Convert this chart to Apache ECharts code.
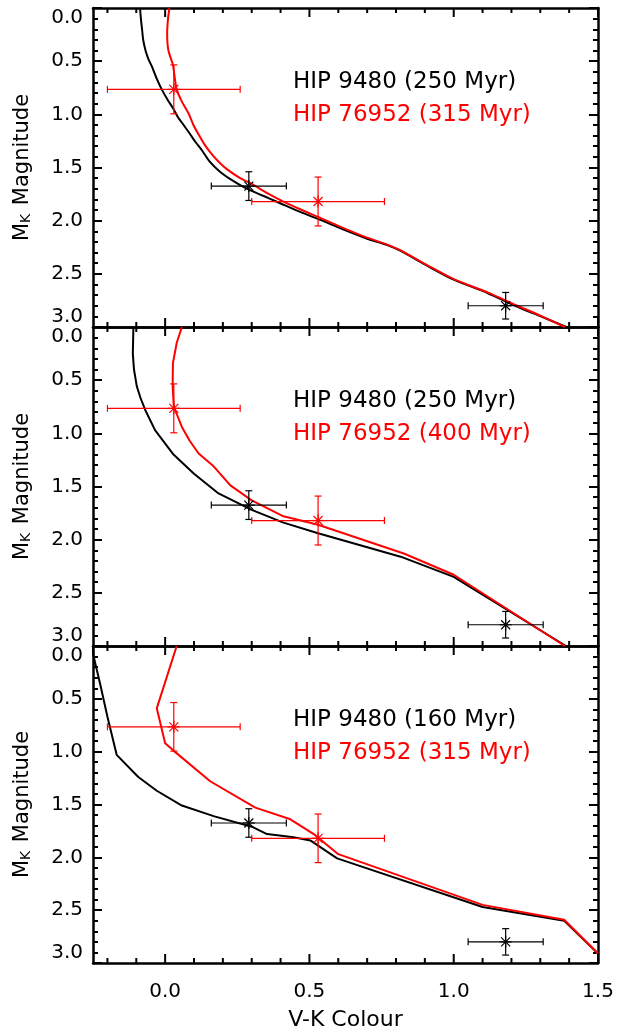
<!DOCTYPE html>
<html><head><meta charset="utf-8">
<script src="https://cdn.jsdelivr.net/npm/echarts@6/dist/echarts.min.js"></script>
<style>html,body{margin:0;padding:0;background:#fff}#c{width:625px;height:1032px}</style>
</head><body><div id="c"></div>
<script>
// ---- data ----
const xMajorTicks = [0, 0.5, 1.0, 1.5];
const xMinorTicks = [-0.2, -0.1, 0.1, 0.2, 0.3, 0.4, 0.6, 0.7, 0.8, 0.9, 1.1, 1.2, 1.3, 1.4];
const yMajorTicks = [0, 0.5, 1.0, 1.5, 2.0, 2.5, 3.0];

const blackLabels = ['HIP 9480 (250 Myr)', 'HIP 9480 (250 Myr)', 'HIP 9480 (160 Myr)'];
const redLabels = ['HIP 76952 (315 Myr)', 'HIP 76952 (400 Myr)', 'HIP 76952 (315 Myr)'];

// [V-K, M_K]
const panel1Black = [[-0.087,0.0],[-0.084,0.10],[-0.080,0.20],[-0.076,0.30],[-0.068,0.40],[-0.058,0.48],[-0.046,0.55],[-0.030,0.66],[-0.011,0.77],[0.008,0.86],[0.029,0.95],[0.045,1.03],[0.064,1.10],[0.085,1.18],[0.105,1.26],[0.128,1.34],[0.156,1.45],[0.19,1.54],[0.226,1.61],[0.26,1.665],[0.30,1.72],[0.36,1.79],[0.41,1.85],[0.47,1.92],[0.54,1.995],[0.61,2.075],[0.70,2.17],[0.77,2.23],[0.816,2.285],[0.909,2.425],[1.0,2.555],[1.117,2.68],[1.221,2.81],[1.302,2.90],[1.39,3.0]];
const panel1Red = [[0.015,0.0],[0.010,0.10],[0.007,0.24],[0.011,0.395],[0.027,0.536],[0.033,0.65],[0.040,0.765],[0.058,0.88],[0.081,0.99],[0.098,1.10],[0.118,1.20],[0.138,1.29],[0.160,1.37],[0.187,1.45],[0.216,1.52],[0.26,1.60],[0.30,1.655],[0.36,1.75],[0.41,1.82],[0.47,1.895],[0.53,1.965],[0.61,2.06],[0.70,2.16],[0.77,2.225],[0.816,2.28],[0.909,2.42],[1.0,2.55],[1.117,2.675],[1.221,2.80],[1.302,2.895],[1.385,3.0]];
const panel2Black = [[-0.110,0.0],[-0.112,0.25],[-0.108,0.40],[-0.098,0.56],[-0.085,0.67],[-0.069,0.78],[-0.035,0.97],[0.029,1.20],[0.10,1.38],[0.185,1.565],[0.30,1.72],[0.41,1.84],[0.53,1.94],[0.816,2.16],[1.0,2.35],[1.389,3.0]];
const panel2Red = [[0.058,0.0],[0.040,0.15],[0.027,0.34],[0.026,0.56],[0.030,0.75],[0.058,0.94],[0.085,1.07],[0.116,1.19],[0.168,1.31],[0.226,1.49],[0.30,1.63],[0.41,1.78],[0.53,1.86],[0.827,2.13],[1.0,2.33],[1.385,3.0]];
const panel3Black = [[-0.256,0.0],[-0.249,0.085],[-0.226,0.35],[-0.200,0.67],[-0.168,1.03],[-0.093,1.24],[-0.029,1.37],[0.058,1.51],[0.168,1.61],[0.30,1.71],[0.353,1.78],[0.445,1.81],[0.503,1.84],[0.596,2.01],[1.10,2.47],[1.383,2.60],[1.5,2.91]];
const panel3Red = [[0.040,0.0],[-0.029,0.59],[0.0,0.92],[0.029,0.99],[0.156,1.28],[0.3125,1.53],[0.434,1.64],[0.515,1.78],[0.60,1.97],[1.10,2.45],[1.383,2.59],[1.5,2.91]];

// [x, y, xErr, yErr]
const starsBlack = [[0.29,1.675,0.13,0.135],[1.18,2.80,0.13,0.125]];
const starsRed = [[0.03,0.765,0.23,0.23],[0.53,1.82,0.23,0.23]];

const curvesBlack = [panel1Black, panel2Black, panel3Black];
const curvesRed = [panel1Red, panel2Red, panel3Red];
const curveSmooth = [0.25, false, false];

// ---- layout ----
const FONT = 'DejaVu Sans';
const PANEL_TOP = [8, 327, 646];
const PANEL_H = 319;
const GRID_LEFT = 93, GRID_RIGHT = 27;
const Y_MIN = 0, Y_MAX = 3;

function errRender(color) {
  return function (params, api) {
    const x = api.value(0), y = api.value(1), ex = api.value(2), ey = api.value(3);
    const c = api.coord([x, y]);
    const l = api.coord([x - ex, y]), r = api.coord([x + ex, y]);
    const t = api.coord([x, y - ey]), b = api.coord([x, y + ey]);
    const cap = 3.5, s = 6, d = 4.5;
    const st = { stroke: color, lineWidth: 1.2 };
    const seg = (x1, y1, x2, y2) => ({ type: 'line', shape: { x1, y1, x2, y2 }, style: st });
    return { type: 'group', children: [
      seg(l[0], l[1], r[0], r[1]),
      seg(l[0], l[1] - cap, l[0], l[1] + cap),
      seg(r[0], r[1] - cap, r[0], r[1] + cap),
      seg(t[0], t[1], b[0], b[1]),
      seg(t[0] - cap, t[1], t[0] + cap, t[1]),
      seg(b[0] - cap, b[1], b[0] + cap, b[1]),
      seg(c[0] - d, c[1] - d, c[0] + d, c[1] + d),
      seg(c[0] - d, c[1] + d, c[0] + d, c[1] - d),
      seg(c[0] - s, c[1], c[0] + s, c[1]),
      seg(c[0], c[1] - s, c[0], c[1] + s)
    ]};
  };
}

// x-axis ticks (inward, top and bottom) placed through the axis scale
function tickRender(params, api) {
  const v = api.value(0), major = api.value(2) === 1;
  const len = major ? 9 : 5;
  const top = api.coord([v, Y_MIN]), bot = api.coord([v, Y_MAX]);
  const st = { stroke: '#000', lineWidth: 2 };
  return { type: 'group', children: [
    { type: 'line', shape: { x1: top[0], y1: top[1], x2: top[0], y2: top[1] + len }, style: st },
    { type: 'line', shape: { x1: bot[0], y1: bot[1], x2: bot[0], y2: bot[1] - len }, style: st }
  ]};
}
// [value, y anchor, major flag]
const xTickData = xMajorTicks.map(v => [v, 1.5, 1]).concat(xMinorTicks.map(v => [v, 1.5, 0]));

const fmt1 = v => v.toFixed(1);
const grids = [], xAxes = [], yAxes = [], series = [], graphics = [];

function xAx(g, pos, labelled) {
  const ax = {
    gridIndex: g, type: 'value', position: pos, min: -0.25, max: 1.5, splitNumber: 4,
    splitLine: { show: false },
    axisLine: { show: true, onZero: false, lineStyle: { color: '#000', width: 2.5 } },
    axisTick: { show: false },
    axisLabel: { show: false }
  };
  if (labelled) {
    ax.axisLabel = {
      show: true, showMinLabel: false, color: '#000', fontFamily: FONT, fontSize: 20, margin: 19,
      formatter: v => (xMajorTicks.some(t => Math.abs(t - v) < 1e-9) ? fmt1(v) : '')
    };
    ax.name = 'V-K Colour';
    ax.nameLocation = 'middle';
    ax.nameGap = 46;
    ax.nameTextStyle = { color: '#000', fontFamily: FONT, fontSize: 22 };
  }
  return ax;
}
function yAx(g, pos) {
  const ax = {
    gridIndex: g, type: 'value', position: pos, inverse: true, min: Y_MIN, max: Y_MAX, interval: 0.5,
    splitLine: { show: false },
    axisLine: { show: true, onZero: false, lineStyle: { color: '#000', width: 2.5 } },
    axisTick: { show: true, inside: true, length: 9, lineStyle: { color: '#000', width: 2 } },
    minorTick: { show: true, splitNumber: 5, length: 5, lineStyle: { color: '#000', width: 2 } },
    axisLabel: { show: false }
  };
  if (pos === 'left') {
    ax.axisLabel = {
      show: true, formatter: fmt1, color: '#000', fontFamily: FONT, fontSize: 20, margin: 10,
      verticalAlignMinLabel: 'top', verticalAlignMaxLabel: 'bottom'
    };
    ax.name = '{m|M}{s|K}{m| Magnitude}';
    ax.nameLocation = 'middle';
    ax.nameGap = 60;
    ax.nameRotate = 90;
    ax.nameTextStyle = { color: '#000', fontFamily: FONT, fontSize: 21,
      rich: { m: { fontFamily: FONT, fontSize: 21, color: '#000' },
              s: { fontFamily: FONT, fontSize: 14, color: '#000', verticalAlign: 'bottom', padding: [6, 2, 0, 0] } } };
  }
  return ax;
}

for (let g = 0; g < 3; g++) {
  grids.push({ left: GRID_LEFT, right: GRID_RIGHT, top: PANEL_TOP[g], height: PANEL_H });
  const xMainIndex = xAxes.length;
  xAxes.push(xAx(g, 'bottom', g === 2), xAx(g, 'top', false));
  const yMainIndex = yAxes.length;
  yAxes.push(yAx(g, 'left'), yAx(g, 'right'));
  series.push({
    type: 'custom', xAxisIndex: xMainIndex, yAxisIndex: yMainIndex, renderItem: tickRender,
    data: xTickData, encode: { x: 0, y: 1 }, z: 6, silent: true, clip: false
  });
  series.push({
    type: 'line', name: blackLabels[g], xAxisIndex: xMainIndex, yAxisIndex: yMainIndex,
    data: curvesBlack[g], showSymbol: false, symbol: 'none', clip: true, smooth: curveSmooth[g],
    lineStyle: { color: '#000', width: 2 }, itemStyle: { color: '#000' }, z: 2
  });
  series.push({
    type: 'line', name: redLabels[g], xAxisIndex: xMainIndex, yAxisIndex: yMainIndex,
    data: curvesRed[g], showSymbol: false, symbol: 'none', clip: true, smooth: curveSmooth[g],
    lineStyle: { color: '#ff0000', width: 2 }, itemStyle: { color: '#ff0000' }, z: 3
  });
  series.push({
    type: 'custom', xAxisIndex: xMainIndex, yAxisIndex: yMainIndex, renderItem: errRender('#000'),
    data: starsBlack, encode: { x: 0, y: 1 }, z: 4
  });
  series.push({
    type: 'custom', xAxisIndex: xMainIndex, yAxisIndex: yMainIndex, renderItem: errRender('#ff0000'),
    data: starsRed, encode: { x: 0, y: 1 }, z: 5
  });
  graphics.push({ type: 'text', left: 293, top: PANEL_TOP[g] + 63,
    style: { text: blackLabels[g], fill: '#000', font: '23px "DejaVu Sans"' } });
  graphics.push({ type: 'text', left: 293, top: PANEL_TOP[g] + 96,
    style: { text: redLabels[g], fill: '#ff0000', font: '23px "DejaVu Sans"' } });
}

const chart = echarts.init(document.getElementById('c'), null, { renderer: 'canvas' });
chart.setOption({
  animation: false,
  backgroundColor: '#fff',
  grid: grids, xAxis: xAxes, yAxis: yAxes, series: series, graphic: graphics
});
</script></body></html>
